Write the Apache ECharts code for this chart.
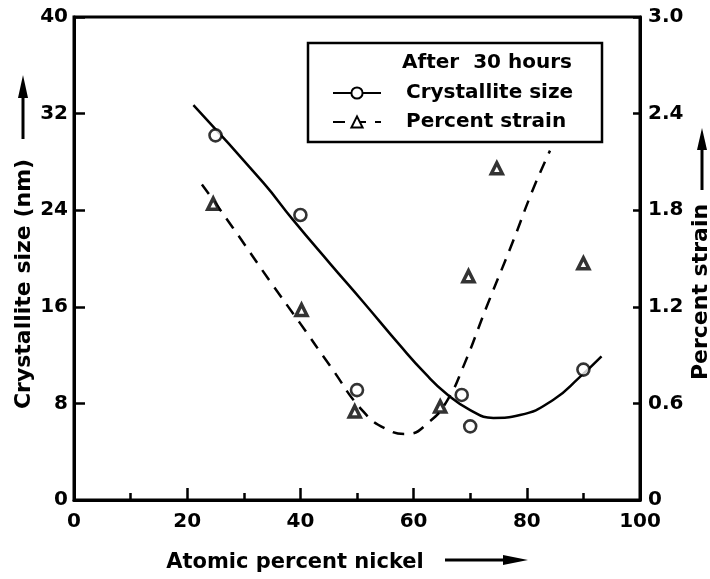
<!DOCTYPE html>
<html>
<head>
<meta charset="utf-8">
<script src="https://cdn.jsdelivr.net/npm/echarts@6/dist/echarts.min.js"></script>
<style>html,body{margin:0;padding:0;background:#fff}#c{width:710px;height:579px}</style>
</head>
<body>
<div id="c"></div>
<script>
// Measured points
const sizeX = [25, 40, 50, 68.5, 70, 90];
const sizeY = [30.2, 23.6, 9.1, 8.7, 6.1, 10.8];
const strainX = [24.6, 40.2, 49.6, 64.7, 69.7, 74.7, 90.0];
const strainY = [1.84, 1.18, 0.55, 0.58, 1.39, 2.06, 1.47];
// Fitted curves
const sizeCurveX = [21.1, 33.4, 38.7, 45.2, 51.1, 57.6, 62.0, 65.8, 70.0, 74.1, 78.8, 84.7, 89.4, 93.2];
const sizeCurveY = [32.7, 26.3, 23.2, 19.6, 16.4, 12.8, 10.5, 8.8, 7.45, 6.8, 7.04, 8.3, 10.2, 11.9];
const strainCurveX = [22.6, 28.1, 34.6, 39.9, 45.2, 51.1, 55.2, 58.8, 62.9, 65.8, 68.8, 72.9, 77.6, 81.1, 84.1];
const strainCurveY = [1.96, 1.69, 1.36, 1.10, 0.835, 0.55, 0.44, 0.41, 0.49, 0.61, 0.83, 1.20, 1.61, 1.93, 2.17];
const xTicks = [0, 20, 40, 60, 80, 100];
const sizeTicks = [0, 8, 16, 24, 32, 40];
const strainTicks = ['0', '0.6', '1.2', '1.8', '2.4', '3.0'];

const FONT = "'DejaVu Sans', sans-serif";
const zip = (a, b) => a.map((v, i) => [v, b[i]]);

const chart = echarts.init(document.getElementById('c'), null, {renderer: 'canvas'});
const lbl = {color: '#000', fontFamily: FONT, fontWeight: 'bold', fontSize: 20};
chart.setOption({
  animation: false,
  backgroundColor: '#fff',
  grid: {left: 74, right: 70, top: 17, bottom: 79, show: true, borderColor: '#000', borderWidth: 3, backgroundColor: 'transparent'},
  xAxis: {
    type: 'value', min: 0, max: 100, interval: 20,
    axisLine: {show: true, lineStyle: {color: '#000', width: 3}},
    axisTick: {show: true, inside: true, length: 12, lineStyle: {color: '#000', width: 2.5}},
    minorTick: {show: true, splitNumber: 2, length: 7, lineStyle: {color: '#000', width: 2.5}},
    axisLabel: Object.assign({margin: 12, formatter: v => xTicks.includes(v) ? String(v) : ''}, lbl),
    splitLine: {show: false}
  },
  yAxis: [{
    type: 'value', min: 0, max: 40, interval: 8, position: 'left',
    axisLine: {show: true, lineStyle: {color: '#000', width: 3}},
    axisTick: {show: true, inside: true, length: 11, lineStyle: {color: '#000', width: 2.5}},
    axisLabel: Object.assign({margin: 6, formatter: v => sizeTicks.includes(v) ? String(v) : ''}, lbl),
    splitLine: {show: false}
  }, {
    type: 'value', min: 0, max: 3, interval: 0.6, position: 'right',
    axisLine: {show: true, lineStyle: {color: '#000', width: 3}},
    axisTick: {show: true, inside: true, length: 7, lineStyle: {color: '#000', width: 2.5}},
    axisLabel: Object.assign({margin: 8, formatter: (v, i) => strainTicks[i]}, lbl),
    splitLine: {show: false}
  }],
  legend: {
    orient: 'vertical', left: 332, top: 83, itemWidth: 48, itemHeight: 14, itemGap: 9,
    padding: 0, z: 20,
    data: ['Crystallite size', 'Percent strain'],
    textStyle: {color: '#000', fontFamily: FONT, fontWeight: 'bold', fontSize: 20, lineHeight: 20, padding: [0, 0, 0, 20]}
  },
  series: [
    {name: 'Crystallite size', type: 'line', yAxisIndex: 0, smooth: 0.5, data: zip(sizeCurveX, sizeCurveY),
     symbol: 'emptyCircle', symbolSize: 11, showSymbol: false, color: '#000',
     itemStyle: {color: '#000', borderWidth: 2.5},
     lineStyle: {color: '#000', width: 2.5}, z: 2},
    {name: 'Percent strain', type: 'line', yAxisIndex: 1, smooth: 0.5, data: zip(strainCurveX, strainCurveY),
     symbol: 'emptyTriangle', symbolSize: 11, showSymbol: false, color: '#000',
     itemStyle: {color: '#000', borderWidth: 3},
     lineStyle: {color: '#000', width: 2.5, type: [12, 9]}, z: 2},
    {name: 'Crystallite size', type: 'scatter', yAxisIndex: 0, data: zip(sizeX, sizeY),
     symbol: 'circle', symbolSize: 12,
     itemStyle: {color: '#fff', borderColor: '#000', borderWidth: 2.6}, z: 3},
    {name: 'Percent strain', type: 'scatter', yAxisIndex: 1, data: zip(strainX, strainY),
     symbol: 'triangle', symbolSize: 11,
     itemStyle: {color: '#fff', borderColor: '#000', borderWidth: 3.5}, z: 3}
  ],
  graphic: [
    {type: 'rect', shape: {x: 308, y: 43, width: 294, height: 99}, style: {fill: '#fff', stroke: '#000', lineWidth: 2.5}, z: 10},
    {type: 'text', x: 487, y: 63, z: 11, style: {text: 'After  30 hours', font: "bold 20px 'DejaVu Sans'", fill: '#000', textAlign: 'center', textVerticalAlign: 'middle'}},
    {type: 'text', x: 24, y: 284, rotation: Math.PI / 2, style: {text: 'Crystallite size (nm)', font: "bold 22px 'DejaVu Sans'", fill: '#000', textAlign: 'center', textVerticalAlign: 'middle'}},
    {type: 'text', x: 295, y: 563, style: {text: 'Atomic percent nickel', font: "bold 21px 'DejaVu Sans'", fill: '#000', textAlign: 'center', textVerticalAlign: 'middle'}},
    {type: 'text', x: 701, y: 292, rotation: Math.PI / 2, style: {text: 'Percent strain', font: "bold 22px 'DejaVu Sans'", fill: '#000', textAlign: 'center', textVerticalAlign: 'middle'}},
    // arrows
    {type: 'line', shape: {x1: 23, y1: 139, x2: 23, y2: 92}, style: {stroke: '#000', lineWidth: 3}},
    {type: 'polygon', shape: {points: [[23, 75], [18, 98], [28, 98]]}, style: {fill: '#000'}},
    {type: 'line', shape: {x1: 445, y1: 560, x2: 508, y2: 560}, style: {stroke: '#000', lineWidth: 3}},
    {type: 'polygon', shape: {points: [[528, 560], [503, 555], [503, 565]]}, style: {fill: '#000'}},
    {type: 'line', shape: {x1: 702, y1: 190, x2: 702, y2: 145}, style: {stroke: '#000', lineWidth: 3}},
    {type: 'polygon', shape: {points: [[702, 128], [697, 150], [707, 150]]}, style: {fill: '#000'}}
  ]
});
</script>
</body>
</html>
